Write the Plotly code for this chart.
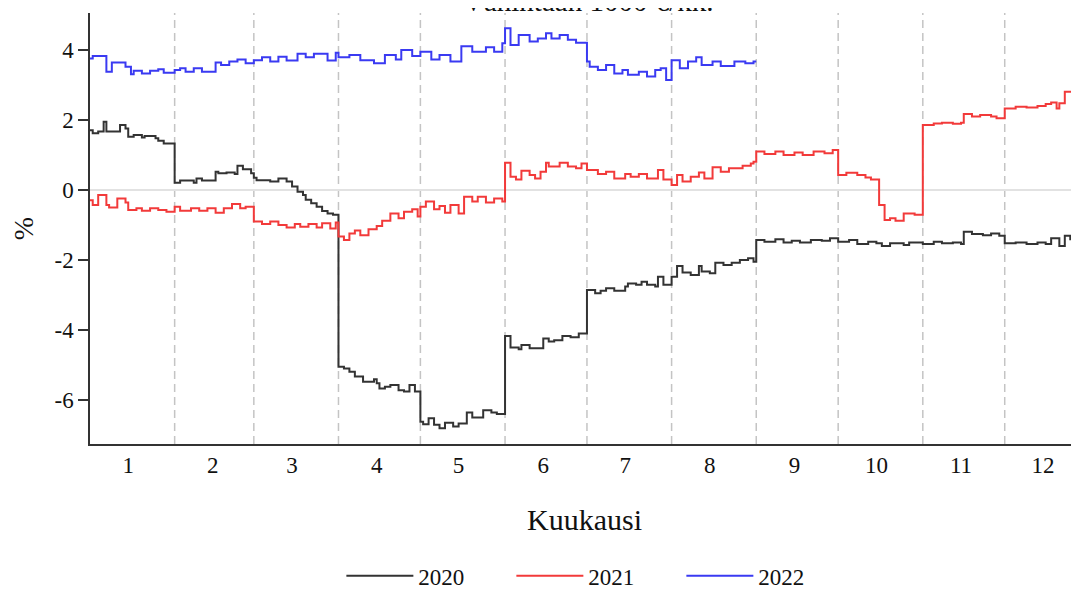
import plotly.graph_objects as go

# ---- data (day of year, 0-based change points; value in %) ----
days_2020 = [0, 1, 3, 5, 6, 11, 13, 14, 16, 19, 20, 24, 25, 27, 31, 33, 38, 39, 41, 46, 47, 50, 53, 54, 56, 59,
             60, 61, 66, 69, 72, 74, 76, 78, 79, 81, 83, 85, 87, 89, 91, 93, 95, 97, 100, 104, 105, 106, 108, 110,
             113, 115, 117, 119, 121, 122, 124, 126, 128, 130, 133, 135, 138, 140, 144, 147, 149, 152, 154, 157,
             158, 161, 166, 168, 170, 173, 176, 179, 182, 185, 187, 189, 192, 196, 197, 200, 202, 204, 207, 208,
             210, 213, 215, 217, 220, 223, 224, 227, 229, 232, 235, 238, 241, 243, 244, 247, 251, 254, 257, 260,
             264, 268, 271, 274, 278, 281, 285, 288, 290, 293, 298, 300, 305, 309, 312, 316, 319, 320, 323, 327,
             330, 333, 335, 339, 343, 347, 350, 352, 355, 357, 359, 362, 366]
vals_2020 = [1.71, 1.62, 1.67, 1.95, 1.67, 1.86, 1.76, 1.52, 1.57, 1.50, 1.54, 1.48, 1.41, 1.33, 0.21, 0.27, 0.21,
             0.33, 0.27, 0.52, 0.48, 0.50, 0.46, 0.69, 0.59, 0.48, 0.35, 0.28, 0.24, 0.33, 0.24, 0.10, -0.05, -0.14,
             -0.28, -0.38, -0.48, -0.60, -0.67, -0.71, -5.05, -5.10, -5.19, -5.33, -5.48, -5.41, -5.52, -5.67,
             -5.62, -5.57, -5.72, -5.76, -5.57, -5.76, -6.62, -6.69, -6.52, -6.71, -6.81, -6.65, -6.76, -6.67,
             -6.36, -6.50, -6.29, -6.36, -6.40, -4.17, -4.50, -4.55, -4.43, -4.52, -4.24, -4.33, -4.29, -4.17,
             -4.21, -4.10, -2.86, -2.95, -2.88, -2.81, -2.88, -2.76, -2.67, -2.71, -2.62, -2.71, -2.76, -2.48,
             -2.71, -2.48, -2.17, -2.36, -2.43, -2.17, -2.33, -2.38, -2.08, -2.14, -2.08, -2.00, -1.95, -2.05,
             -1.43, -1.48, -1.41, -1.50, -1.45, -1.50, -1.43, -1.45, -1.38, -1.48, -1.43, -1.54, -1.48, -1.52,
             -1.60, -1.52, -1.57, -1.50, -1.54, -1.48, -1.52, -1.50, -1.54, -1.19, -1.26, -1.29, -1.24, -1.31,
             -1.52, -1.50, -1.54, -1.50, -1.54, -1.38, -1.60, -1.31, -1.41, -1.48, -1.48]

days_2021 = [0, 1, 3, 6, 7, 10, 13, 14, 17, 19, 22, 25, 28, 31, 33, 37, 40, 43, 46, 49, 52, 55, 57, 60, 63, 66,
             69, 72, 75, 77, 80, 83, 85, 88, 90, 91, 93, 95, 97, 99, 102, 105, 107, 110, 113, 115, 118, 120, 121,
             123, 126, 128, 130, 132, 135, 137, 140, 142, 145, 148, 151, 152, 154, 156, 158, 161, 163, 165, 167,
             168, 172, 175, 178, 180, 182, 186, 189, 192, 196, 198, 201, 204, 208, 210, 213, 215, 217, 220, 223,
             225, 228, 231, 234, 239, 242, 243, 244, 247, 251, 254, 258, 261, 265, 269, 272, 274, 277, 281, 284,
             286, 289, 291, 293, 295, 298, 302, 305, 309, 312, 316, 319, 320, 323, 326, 330, 332, 335, 339, 343,
             347, 350, 352, 354, 355, 357, 360, 361, 366]
vals_2021 = [-0.29, -0.43, -0.14, -0.43, -0.50, -0.24, -0.36, -0.57, -0.52, -0.59, -0.52, -0.57, -0.62, -0.48,
             -0.59, -0.52, -0.59, -0.52, -0.65, -0.52, -0.40, -0.52, -0.48, -0.90, -0.97, -0.90, -1.00, -1.07,
             -0.97, -1.05, -0.97, -1.07, -0.95, -1.10, -0.93, -1.33, -1.43, -1.24, -1.16, -1.29, -1.12, -1.03,
             -0.88, -0.67, -0.81, -0.62, -0.55, -0.76, -0.48, -0.33, -0.55, -0.46, -0.65, -0.43, -0.67, -0.19,
             -0.33, -0.19, -0.36, -0.24, -0.33, 0.78, 0.38, 0.30, 0.55, 0.43, 0.33, 0.52, 0.78, 0.67, 0.78, 0.67,
             0.62, 0.76, 0.57, 0.46, 0.52, 0.33, 0.46, 0.38, 0.46, 0.33, 0.57, 0.30, 0.14, 0.43, 0.24, 0.38, 0.50,
             0.33, 0.65, 0.52, 0.62, 0.69, 0.76, 0.81, 1.10, 1.03, 1.10, 1.00, 1.07, 1.00, 1.10, 1.05, 1.14, 0.43,
             0.49, 0.43, 0.36, 0.30, -0.43, -0.86, -0.81, -0.88, -0.67, -0.71, 1.86, 1.90, 1.92, 1.89, 1.92, 2.17,
             2.10, 2.14, 2.10, 2.05, 2.33, 2.38, 2.36, 2.40, 2.46, 2.50, 2.33, 2.48, 2.81, 2.71, 2.46, 2.46]

days_2022 = [0, 1, 6, 8, 13, 15, 16, 19, 22, 25, 27, 31, 33, 35, 38, 41, 46, 48, 51, 54, 57, 60, 63, 66, 69, 72,
             76, 79, 82, 87, 90, 91, 95, 99, 104, 108, 112, 114, 118, 121, 125, 128, 132, 136, 140, 145, 148, 151,
             152, 154, 157, 161, 164, 167, 169, 172, 175, 178, 182, 183, 186, 189, 192, 195, 197, 201, 204, 207,
             209, 211, 213, 216, 219, 222, 224, 228, 231, 236, 240, 243, 244]
vals_2022 = [3.76, 3.83, 3.38, 3.64, 3.52, 3.31, 3.41, 3.33, 3.41, 3.45, 3.35, 3.43, 3.48, 3.38, 3.48, 3.38, 3.64,
             3.57, 3.67, 3.73, 3.62, 3.71, 3.79, 3.67, 3.81, 3.70, 3.89, 3.79, 3.89, 3.70, 3.92, 3.79, 3.86, 3.71,
             3.62, 3.86, 3.73, 4.00, 3.83, 3.95, 3.73, 3.86, 3.67, 4.11, 3.95, 4.08, 3.95, 4.19, 4.62, 4.14, 4.43,
             4.24, 4.33, 4.48, 4.33, 4.43, 4.29, 4.21, 3.67, 3.52, 3.43, 3.57, 3.33, 3.43, 3.29, 3.38, 3.24, 3.43,
             3.48, 3.14, 3.71, 3.48, 3.67, 3.79, 3.57, 3.67, 3.54, 3.67, 3.62, 3.67, 3.67]

month_lengths = [31, 29, 31, 30, 31, 30, 31, 31, 30, 31, 30, 31]
month_labels = ["1", "2", "3", "4", "5", "6", "7", "8", "9", "10", "11", "12"]
y_ticks = [-6, -4, -2, 0, 2, 4]
y_ticklabels = ["-6", "-4", "-2", "0", "2", "4"]

series = [("2020", days_2020, vals_2020, "#333333"),
          ("2021", days_2021, vals_2021, "#f23a3a"),
          ("2022", days_2022, vals_2022, "#3a3af2")]

FONT = "Liberation Serif"

fig = go.Figure()
for name, d, v, c in series:
    fig.add_trace(go.Scatter(x=d, y=v, mode="lines", name=name, line_shape="hv",
                             line=dict(color=c, width=2), hoverinfo="skip"))

month_starts = [0]
for m in month_lengths:
    month_starts.append(month_starts[-1] + m)
boundaries = month_starts[1:-1]
tick_pos = [s + 14 for s in month_starts[:-1]]

for b in boundaries:
    fig.add_shape(type="line", xref="x", yref="paper", x0=b, x1=b, y0=0, y1=1,
                  line=dict(color="#c4c4c4", width=1.5, dash="8px,5px"), layer="below")

fig.add_annotation(text="Vähintään 1000 €/kk.", xref="paper", yref="paper", x=0.5035, y=1,
                   xanchor="center", yanchor="bottom", yshift=-6, showarrow=False,
                   font=dict(family=FONT, size=29, color="#111111"))

fig.update_layout(
    width=1071, height=582,
    margin=dict(l=82, r=0, t=5, b=146, autoexpand=False),
    plot_bgcolor="white", paper_bgcolor="white",
    font=dict(family=FONT, size=22, color="#111111"),
    showlegend=True,
    legend=dict(orientation="h", x=0.512, xanchor="center", y=-0.306, yanchor="middle",
                yref="paper", font=dict(family=FONT, size=23), entrywidth=88,
                entrywidthmode="pixels", itemwidth=67, bgcolor="rgba(0,0,0,0)"),
    xaxis=dict(range=[0, 362.2], tickvals=tick_pos, ticktext=month_labels, showgrid=False,
               zeroline=False, showline=True, linecolor="#333333", linewidth=1.5,
               ticks="", ticklabelstandoff=0, tickfont=dict(size=23), automargin=False,
               title=dict(text="Kuukausi", font=dict(size=30), standoff=32)),
    yaxis=dict(range=[-7.257, 5.057], tickvals=y_ticks, ticktext=y_ticklabels, showgrid=False,
               zeroline=True, zerolinecolor="#e2e2e2", zerolinewidth=1.5,
               showline=True, linecolor="#333333", linewidth=1.5,
               ticks="outside", ticklen=10, tickwidth=1.5, tickcolor="#333333",
               tickfont=dict(size=23), automargin=False,
               title=dict(text="%", font=dict(size=28), standoff=16)),
)

fig.write_html("out.html")
